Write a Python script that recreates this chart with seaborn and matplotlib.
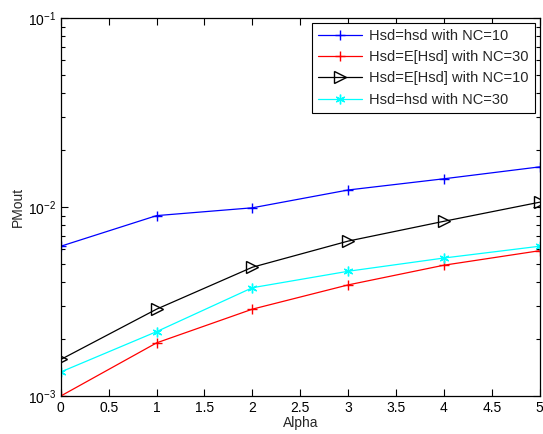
import numpy as np
import pandas as pd
import seaborn as sns
import matplotlib
matplotlib.use("Agg")
import matplotlib.pyplot as plt
from matplotlib.ticker import LogLocator, NullFormatter

alpha = [0, 1, 2, 3, 4, 5]
hsd_nc10 = [0.0062, 0.0090, 0.0099, 0.0123, 0.0141, 0.0163]
ehsd_nc30 = [0.00100, 0.00191, 0.00288, 0.00387, 0.00492, 0.00587]
ehsd_nc10 = [0.00156, 0.00288, 0.0048, 0.0066, 0.0084, 0.0106]
hsd_nc30 = [0.00134, 0.00219, 0.00374, 0.00457, 0.00537, 0.0062]

labels = ["Hsd=hsd with NC=10", "Hsd=E[Hsd] with NC=30",
          "Hsd=E[Hsd] with NC=10", "Hsd=hsd with NC=30"]
series = [hsd_nc10, ehsd_nc30, ehsd_nc10, hsd_nc30]
colors = ["#0000ff", "#ff0000", "#000000", "#00ffff"]
markers = ["+", "+", ">", (6, 2, 0)]
msizes = [7, 7, 8, 7]

sns.set_style("ticks")
plt.rcParams['font.family'] = ['Liberation Sans', 'DejaVu Sans']

fig = plt.figure(figsize=(5.43, 4.34), dpi=100)
ax = fig.add_axes([0.112, 0.0876, 0.882, 0.871])

for lab, vals, c, m, ms in zip(labels, series, colors, markers, msizes):
    df = pd.DataFrame({"Alpha": alpha, "PMout": vals})
    sns.lineplot(data=df, x="Alpha", y="PMout", ax=ax, color=c, marker=m,
                 markersize=ms, markeredgecolor=c,
                 markerfacecolor="none" if m == ">" else c,
                 markeredgewidth=1.0, linewidth=0.9, label=lab)

ax.set_yscale("log")
ax.set_xlim(0, 5)
ax.set_ylim(1e-3, 1e-1)
ax.set_xticks(np.arange(0, 5.01, 0.5))
ax.set_xticklabels(["0", "0.5", "1", "1.5", "2", "2.5", "3", "3.5", "4", "4.5", "5"])
ax.yaxis.set_major_locator(LogLocator(base=10, numticks=10))
ax.yaxis.set_minor_locator(LogLocator(base=10, subs=np.arange(2, 10), numticks=20))
ax.yaxis.set_minor_formatter(NullFormatter())

ax.tick_params(which="both", direction="in", top=True, right=True,
               labelsize=10, width=0.8, colors="black")
ax.tick_params(which="major", length=5)
ax.tick_params(which="minor", length=3)
for s in ax.spines.values():
    s.set_linewidth(0.9)
    s.set_color("black")

ax.set_xlabel("Alpha", fontsize=10, labelpad=1)
ax.set_ylabel("PMout", fontsize=10, labelpad=2)

leg = ax.legend(loc="upper right", fontsize=10.5, frameon=True, fancybox=False,
                edgecolor="black", framealpha=1, borderaxespad=0.35,
                handlelength=3.0, handletextpad=0.5, labelspacing=0.5, borderpad=0.4)
leg.get_frame().set_linewidth(0.8)

fig.savefig("out.png", dpi=100)
